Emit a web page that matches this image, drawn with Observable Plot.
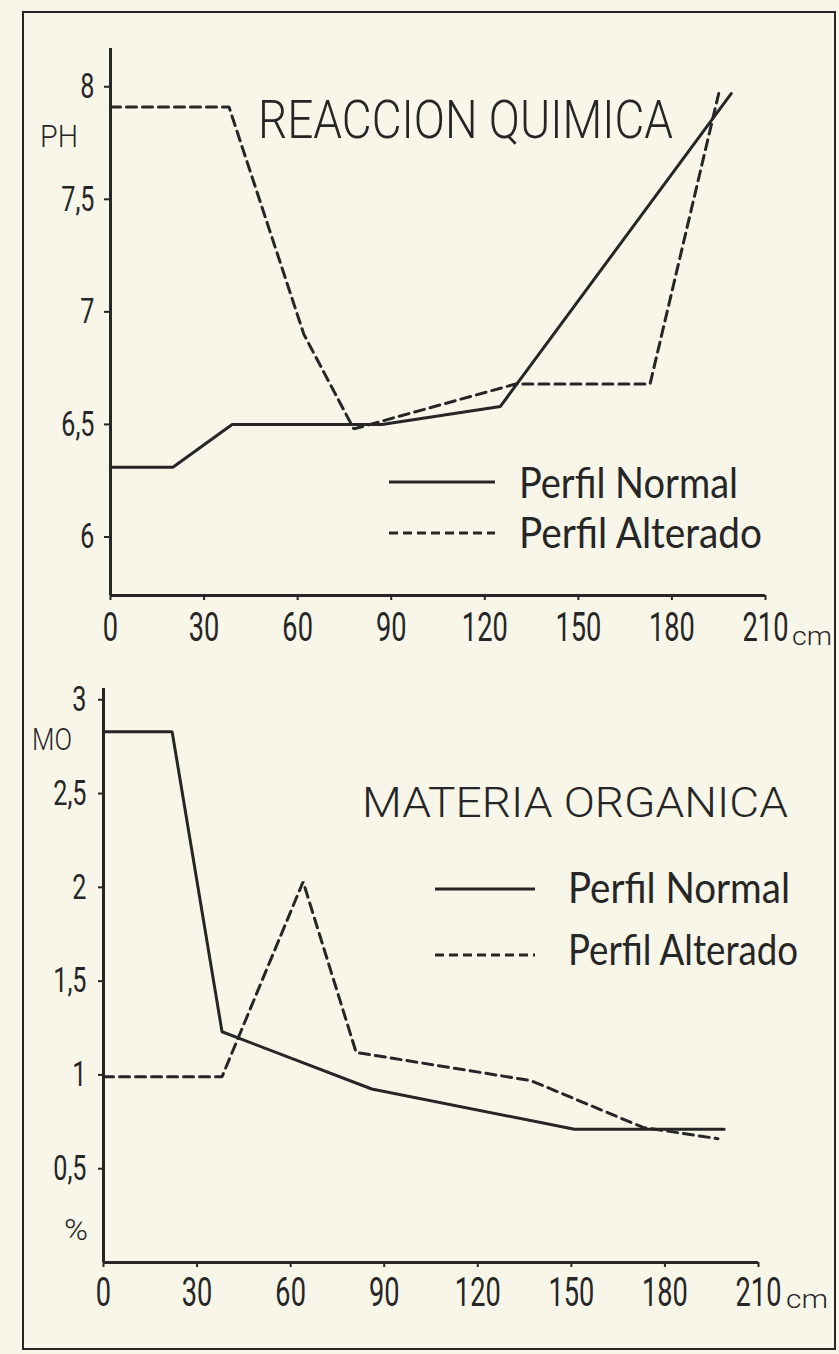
<!DOCTYPE html>
<html>
<head>
<meta charset="utf-8">
<script src="https://cdn.jsdelivr.net/npm/d3@7"></script>
<script src="https://cdn.jsdelivr.net/npm/@observablehq/plot@0.6"></script>
<style>
  html, body { margin: 0; padding: 0; background: #f8f6e9; }
  #page { position: relative; width: 839px; height: 1354px; overflow: hidden; background: #f8f6e9; }
  #top, #bottom { position: absolute; left: 0; }
  #top { top: 0; }
  #bottom { top: 660px; }
  #overlay { position: absolute; left: 0; top: 0; pointer-events: none; }
</style>
</head>
<body>
<div id="page">
  <div id="top"></div>
  <div id="bottom"></div>
  <svg id="overlay" width="839" height="1354"></svg>
</div>
<script>
// ---------- data ----------
const depthTicks = [0, 30, 60, 90, 120, 150, 180, 210];
const phTicks = [6, 6.5, 7, 7.5, 8];
const moTicks = [0.5, 1, 1.5, 2, 2.5, 3];

const seriesNames = ["Perfil Normal", "Perfil Alterado"];

// Reacción química (pH)
const phDepthNormal = [0, 20, 39, 87, 125, 199];
const phNormal      = [6.31, 6.31, 6.5, 6.5, 6.58, 7.97];
const phDepthAltered = [0, 38, 62, 78, 130, 173, 195];
const phAltered      = [7.91, 7.91, 6.9, 6.48, 6.68, 6.68, 7.97];

// Materia orgánica (%)
const moDepthNormal = [0, 22, 38, 86, 151, 199];
const moNormal      = [2.83, 2.83, 1.23, 0.925, 0.71, 0.71];
const moDepthAltered = [0, 38, 64, 81, 137, 173, 197];
const moAltered      = [0.99, 0.99, 2.03, 1.12, 0.97, 0.72, 0.66];

// ---------- styling ----------
const ink = "#262626";
const axisFont = "Roboto, 'DejaVu Sans', sans-serif";
const comma = d => String(d).replace(".", ",");

const toRows = (xs, ys) => xs.map((x, i) => ({depth: x, value: ys[i]}));

function squeeze(svg, selector, sx) {
  d3.select(svg).selectAll(selector).each(function () {
    const t = this.getAttribute("transform");
    if (t) {
      this.setAttribute("transform", t + ` scale(${sx},1)`);
    } else {
      const x = +this.getAttribute("x") || 0, y = +this.getAttribute("y") || 0;
      this.removeAttribute("x"); this.removeAttribute("y");
      this.setAttribute("transform", `translate(${x},${y}) scale(${sx},1)`);
    }
  });
}

function chart({height, marginTop, marginBottom, marginLeft, marginRight, yDomain, yTicks,
                normal, altered, yTickSize, yTickPadding, xTickPadding}) {
  const svg = Plot.plot({
    width: 839,
    height,
    marginTop, marginBottom, marginLeft, marginRight,
    style: {background: "transparent", color: ink, fontFamily: axisFont, fontWeight: 400, overflow: "visible"},
    x: {domain: [0, 210], label: null},
    y: {domain: yDomain, label: null},
    marks: [
      Plot.axisX({ticks: depthTicks, tickFormat: d => String(d), tickSize: 5, tickPadding: xTickPadding,
                  fontSize: 40, strokeWidth: 2, stroke: ink, fill: ink, label: null}),
      Plot.axisY({ticks: yTicks, tickFormat: comma, tickSize: yTickSize, tickPadding: yTickPadding,
                  fontSize: 35, strokeWidth: 2, stroke: ink, fill: ink, label: null}),
      Plot.ruleX([0], {stroke: ink, strokeWidth: 3}),
      Plot.ruleY([yDomain[0]], {stroke: ink, strokeWidth: 3}),
      Plot.line(normal, {x: "depth", y: "value", stroke: ink, strokeWidth: 3, strokeLinejoin: "miter"}),
      Plot.line(altered, {x: "depth", y: "value", stroke: ink, strokeWidth: 3, strokeDasharray: "10,6", strokeLinejoin: "miter"})
    ]
  });
  squeeze(svg, 'g[aria-label="x-axis tick label"] text', 0.68);
  squeeze(svg, 'g[aria-label="y-axis tick label"] text', 0.72);
  return svg;
}

document.getElementById("top").appendChild(chart({
  height: 660, marginTop: 48, marginBottom: 65, marginLeft: 110, marginRight: 74,
  yDomain: [5.74, 8.17], yTicks: phTicks,
  normal: toRows(phDepthNormal, phNormal), altered: toRows(phDepthAltered, phAltered),
  yTickSize: 6, yTickPadding: 10, xTickPadding: 12
}));

document.getElementById("bottom").appendChild(chart({
  height: 694, marginTop: 28, marginBottom: 92, marginLeft: 103, marginRight: 81,
  yDomain: [0, 3.06], yTicks: moTicks,
  normal: toRows(moDepthNormal, moNormal), altered: toRows(moDepthAltered, moAltered),
  yTickSize: 5, yTickPadding: 12, xTickPadding: 10
}));

// ---------- overlay: frame, titles, unit labels, legends ----------
const ov = d3.select("#overlay");
ov.append("rect").attr("x", 23).attr("y", 12).attr("width", 812).attr("height", 1337)
  .attr("fill", "none").attr("stroke", ink).attr("stroke-width", 2);

function label(text, x, baseline, size, width, family, weight) {
  ov.append("text").text(text)
    .attr("x", x).attr("y", baseline)
    .attr("font-size", size).attr("font-family", family).attr("font-weight", weight || 300)
    .attr("fill", ink)
    .attr("textLength", width).attr("lengthAdjust", "spacingAndGlyphs");
}
const titleFont = "Roboto, 'DejaVu Sans', sans-serif";
const legendFont = "Lato, 'Open Sans', sans-serif";

label("REACCION QUIMICA", 258, 138, 53, 415, titleFont, 300);
label("MATERIA ORGANICA", 362, 817, 42, 426, titleFont, 300);

label("PH", 40, 147, 31, 38, titleFont, 300);
label("MO", 32, 750, 31, 40, titleFont, 300);
label("%", 64, 1240, 30, 24, titleFont, 300);
label("cm", 792, 645, 26, 40, titleFont, 300);
label("cm", 786, 1308, 26, 42, titleFont, 300);

function legend(x0, x1, textX, yNormal, yAltered, wNormal, wAltered, bNormal, bAltered) {
  ov.append("line").attr("x1", x0).attr("x2", x1).attr("y1", yNormal).attr("y2", yNormal)
    .attr("stroke", ink).attr("stroke-width", 3);
  ov.append("line").attr("x1", x0).attr("x2", x1).attr("y1", yAltered).attr("y2", yAltered)
    .attr("stroke", ink).attr("stroke-width", 3).attr("stroke-dasharray", "9,5");
  label(seriesNames[0], textX, bNormal, 42, wNormal, legendFont, 400);
  label(seriesNames[1], textX, bAltered, 42, wAltered, legendFont, 400);
}
legend(389, 495, 519, 482, 533, 219, 243, 498, 548);
legend(435, 535, 568, 889, 955, 222, 230, 903, 965);
</script>
</body>
</html>
